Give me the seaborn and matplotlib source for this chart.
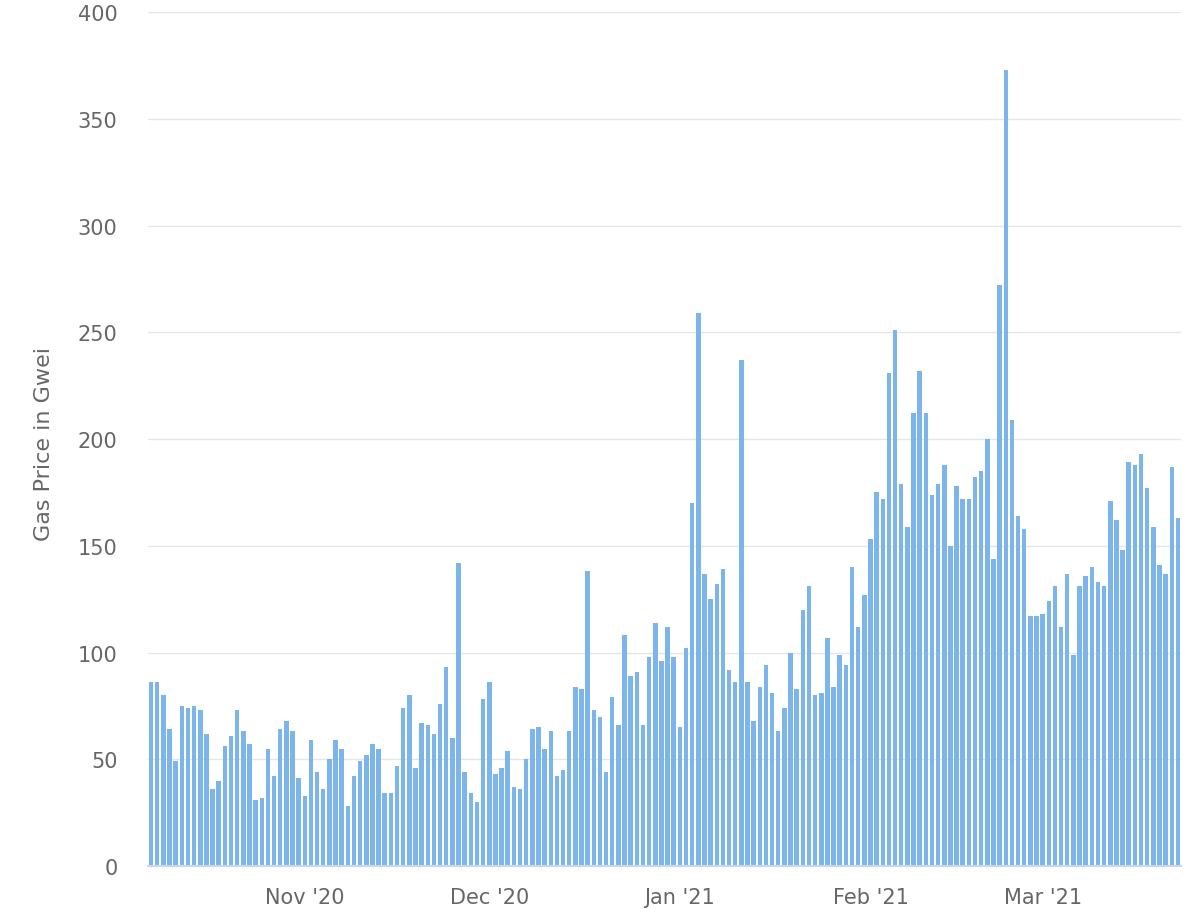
import numpy as np
import pandas as pd
import matplotlib
matplotlib.use('Agg')
import matplotlib.pyplot as plt
import seaborn as sns

# daily average gas price (Gwei), 2020-10-07 .. 2021-03-23
start_day = '2020-10-07'
oct_20 = [86, 86, 80, 64, 49, 75, 74, 75, 73, 62, 36, 40, 56, 61, 73, 63, 57, 31, 32, 55,
          42, 64, 68, 63, 41]
nov_20 = [33, 59, 44, 36, 50, 59, 55, 28, 42, 49, 52, 57, 55, 34, 34, 47, 74, 80, 46, 67,
          66, 62, 76, 93, 60, 142, 44, 34, 30, 78]
dec_20 = [86, 43, 46, 54, 37, 36, 50, 64, 65, 55, 63, 42, 45, 63, 84, 83, 138, 73, 70, 44,
          79, 66, 108, 89, 91, 66, 98, 114, 96, 112, 98]
jan_21 = [65, 102, 170, 259, 137, 125, 132, 139, 92, 86, 237, 86, 68, 84, 94, 81, 63, 74,
          100, 83, 120, 131, 80, 81, 107, 84, 99, 94, 140, 112, 127]
feb_21 = [153, 175, 172, 231, 251, 179, 159, 212, 232, 212, 174, 179, 188, 150, 178, 172,
          172, 182, 185, 200, 144, 272, 373, 209, 164, 158, 117, 117]
mar_21 = [118, 124, 131, 112, 137, 99, 131, 136, 140, 133, 131, 171, 162, 148, 189, 188,
          193, 177, 159, 141, 137, 187, 163]

month_starts = ['2020-11-01', '2020-12-01', '2021-01-01', '2021-02-01', '2021-03-01']
month_labels = ["Nov '20", "Dec '20", "Jan '21", "Feb '21", "Mar '21"]
y_ticks = [0, 50, 100, 150, 200, 250, 300, 350, 400]

gas = oct_20 + nov_20 + dec_20 + jan_21 + feb_21 + mar_21
dates = pd.date_range(start_day, periods=len(gas), freq='D')
df = pd.DataFrame({'day': (dates - dates[0]).days, 'gwei': gas})

sns.set_style('white')
plt.rcParams['font.family'] = ['DejaVu Sans']

W, H = 1191, 912
fig = plt.figure(figsize=(W / 100, H / 100), dpi=100, facecolor='white')
ax = fig.add_axes([148 / W, (H - 867) / H, (1181 - 148) / W, (867 - 13) / H])

sns.barplot(data=df, x='day', y='gwei', native_scale=True, color='#7cb5ec',
            saturation=1, width=0.73, linewidth=0, errorbar=None, ax=ax)

ax.set_xlim(-0.5, len(gas) - 0.5)
ax.set_ylim(0, 400)

tick_pos = (pd.to_datetime(month_starts) - dates[0]).days
ax.set_xticks(tick_pos)
ax.set_xticklabels(month_labels)
ax.set_yticks(y_ticks)
ax.set_yticklabels([str(v) for v in y_ticks])

ax.tick_params(axis='x', length=7, width=1.3, color='#ccd6eb', labelsize=15,
               labelcolor='#666666', pad=8)
ax.tick_params(axis='y', length=0, labelsize=15, labelcolor='#666666', pad=22)

ax.set_axisbelow(True)
ax.yaxis.grid(True, color='#e6e6e6', linewidth=1)
ax.xaxis.grid(False)

for s in ['top', 'right', 'left']:
    ax.spines[s].set_visible(False)
ax.spines['bottom'].set_color('#ccd6eb')
ax.spines['bottom'].set_linewidth(1.5)

ax.set_xlabel('')
ax.set_ylabel('Gas Price in Gwei', fontsize=16, color='#666666', va='center')
ax.yaxis.set_label_coords((44 - 148) / (1181 - 148), 0.495)

plt.savefig('out.png', dpi=100, facecolor='white')
